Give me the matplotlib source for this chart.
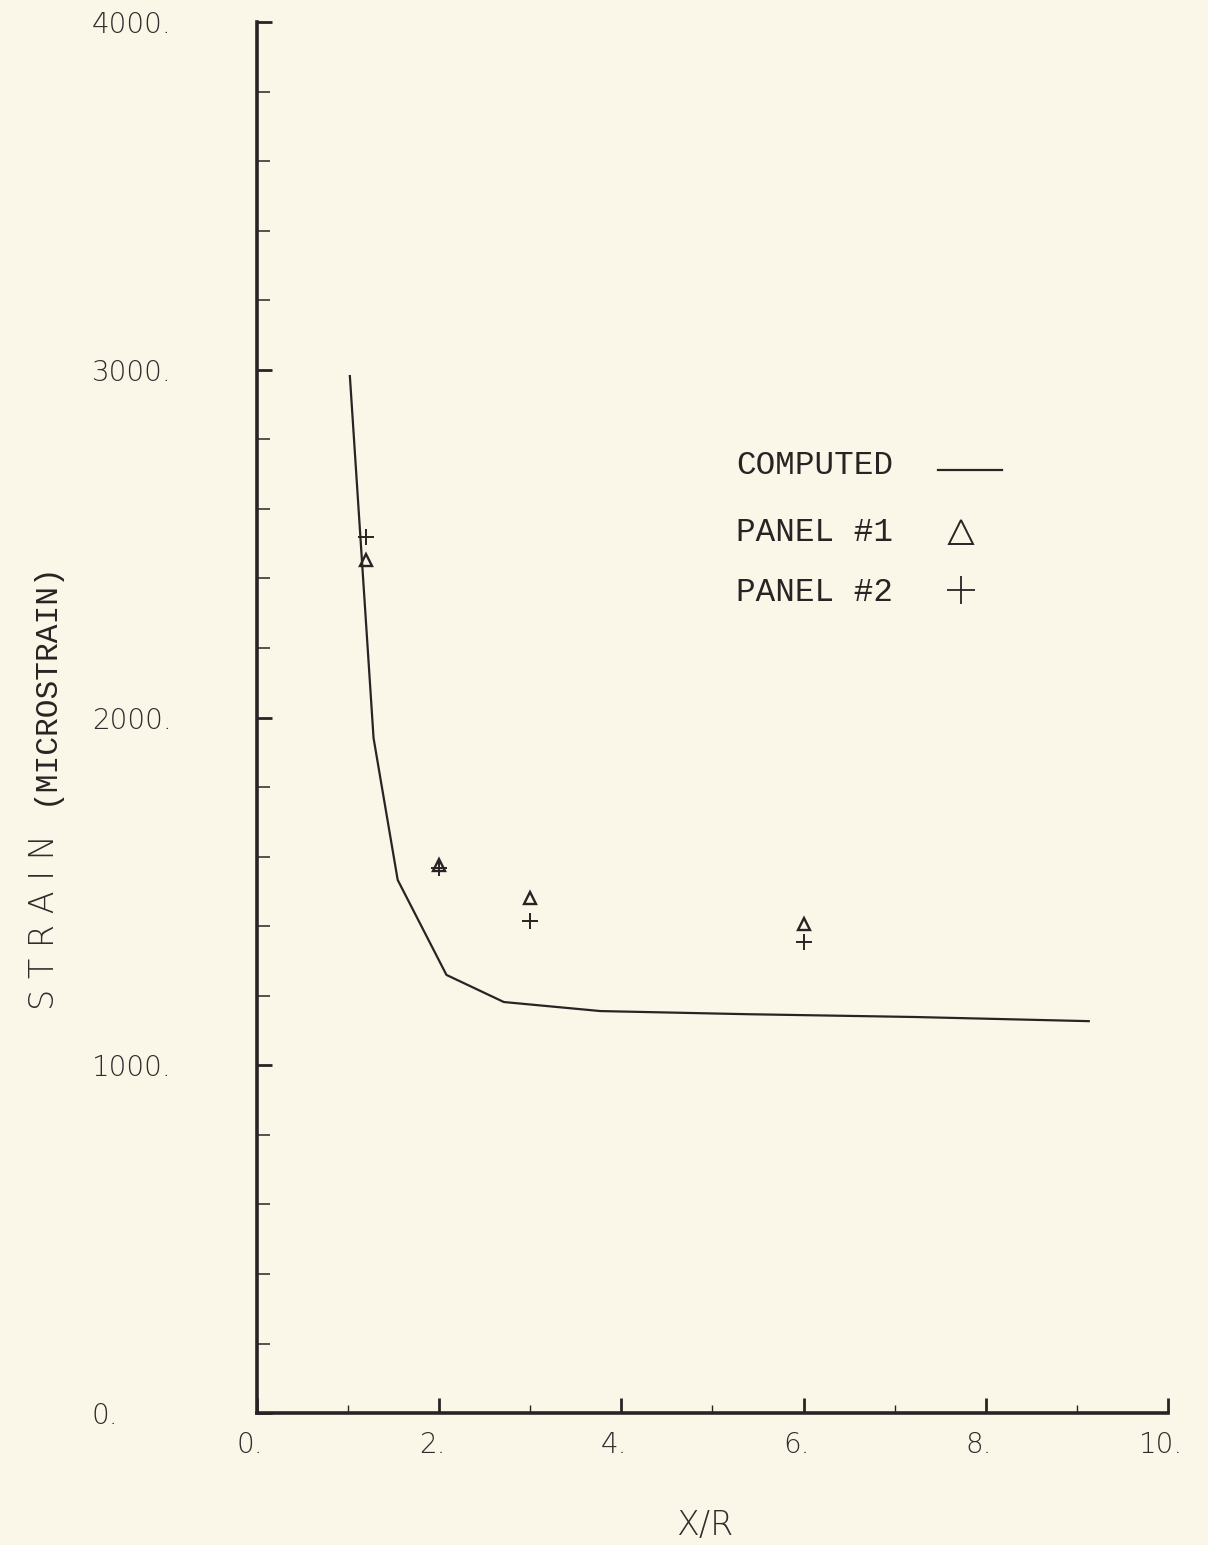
import matplotlib
matplotlib.use("Agg")
from matplotlib import pyplot as plt
from matplotlib.ticker import MultipleLocator
from matplotlib.transforms import ScaledTranslation

# computed strain along the panel (x/r vs microstrain)
computed_xr = [1.02, 1.28, 1.545, 2.08, 2.71, 3.77, 5.38, 7.21, 9.13]
computed_strain = [2982, 1941, 1533, 1260, 1182, 1156, 1147, 1139, 1127]

# gauge readings
gauge_xr = [1.2, 2.0, 3.0, 6.0]
panel1_strain = [2453, 1576, 1481, 1406]
panel2_strain = [2519, 1567, 1415, 1354]

x_ticks = [0, 2, 4, 6, 8, 10]
x_tick_labels = ['0.', '2.', '4.', '6.', '8.', '10.']
y_ticks = [0, 1000, 2000, 3000, 4000]
y_tick_labels = ['0.', '1000.', '2000.', '3000.', '4000.']

paper = '#faf7e9'
ink = '#2b2323'
pen = '#302c2c'
plotter = dict(family='DejaVu Sans', weight='light', color=pen)
typewriter = dict(family='Liberation Mono', color=ink)

fig = plt.figure(figsize=(12.08, 15.45), dpi=100, facecolor=paper)
ax = fig.add_axes([0.2127, 0.0854, 0.7542, 0.9003])
ax.set_facecolor(paper)

ax.plot(computed_xr, computed_strain, c=ink, lw=1.6)
ax.plot(gauge_xr, panel1_strain, ls='none', marker='^', ms=8, mfc='none',
        mec=ink, mew=1.7)
ax.plot(gauge_xr, panel2_strain, ls='none', marker='+', ms=12, mec=ink, mew=1.4)

ax.set_xlim(0, 10)
ax.set_ylim(0, 4000)
for side in ['top', 'right']:
    ax.spines[side].set_visible(False)
for side in ['left', 'bottom']:
    ax.spines[side].set_linewidth(2.6)
    ax.spines[side].set_color(ink)

ax.set_xticks(x_ticks)
ax.set_xticklabels(x_tick_labels, fontdict=plotter, fontsize=20)
ax.set_yticks(y_ticks)
ax.set_yticklabels(y_tick_labels, fontdict=plotter, fontsize=20)
ax.xaxis.set_minor_locator(MultipleLocator(1))
ax.yaxis.set_minor_locator(MultipleLocator(200))
ax.tick_params(axis='both', which='major', direction='in', length=11,
               width=2.0, color=ink)
ax.tick_params(axis='y', which='minor', direction='in', length=9,
               width=1.1, color=ink)
ax.tick_params(axis='x', which='minor', direction='in', length=6,
               width=1.0, color=ink)
ax.tick_params(axis='x', which='major', pad=13)
ax.tick_params(axis='y', which='major', pad=119)
for lab in ax.get_yticklabels():
    lab.set_horizontalalignment('left')
# x labels sit a little left of their ticks
shift = ScaledTranslation(-7 / 100, 0, fig.dpi_scale_trans)
for lab in ax.get_xticklabels():
    lab.set_transform(lab.get_transform() + shift)

# axis titles
fig.text(705 / 1208, 1 - 1525 / 1545, 'X/R', fontdict=plotter, fontsize=24,
         ha='center', va='center')
fig.text(45 / 1208, 1 - 1010 / 1545, 'S T R A I N', fontdict=plotter,
         fontsize=24, rotation=90, ha='center', va='bottom')
fig.text(45 / 1208, 1 - 805 / 1545, '(MICROSTRAIN)', fontdict=typewriter,
         fontsize=22.5, rotation=90, ha='center', va='bottom')

# key
ax.text(5.26, 2726, 'COMPUTED', fontdict=typewriter, fontsize=23.5, va='center')
ax.plot([7.48, 8.18], [2712, 2712], c=ink, lw=1.6)
ax.text(5.26, 2533, 'PANEL #1', fontdict=typewriter, fontsize=23.5, va='center')
ax.plot([7.73], [2533], ls='none', marker='^', ms=17, mfc='none', mec=ink, mew=1.4)
ax.text(5.26, 2361, 'PANEL #2', fontdict=typewriter, fontsize=23.5, va='center')
ax.plot([7.73], [2367], ls='none', marker='+', ms=20, mec=ink, mew=1.3)

fig.savefig('out.png', dpi=100, facecolor=paper)
